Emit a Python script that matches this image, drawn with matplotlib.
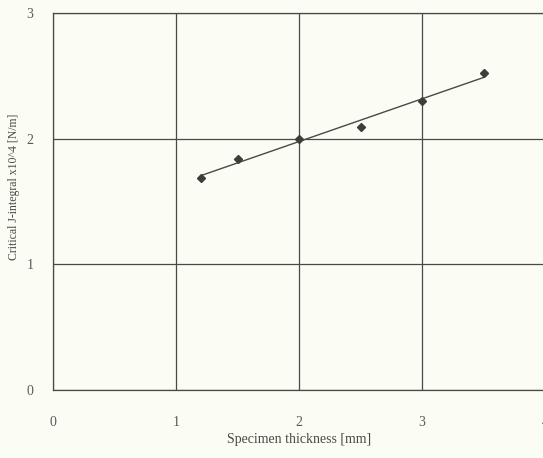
import matplotlib
matplotlib.use("Agg")
import matplotlib.pyplot as plt
import numpy as np

# specimen thickness [mm] and critical J-integral (x10^4 N/m)
thickness = [1.2, 1.5, 2.0, 2.5, 3.0, 3.5]
j_crit = [1.69, 1.84, 2.00, 2.09, 2.30, 2.52]

x_ticks = [0, 1, 2, 3, 4]
y_ticks = [0, 1, 2, 3]

bg = '#fbfcf3'
ink = '#4a4a44'

plt.rcParams['font.family'] = ['Liberation Serif', 'DejaVu Serif']

fig = plt.figure(figsize=(5.43, 4.58), dpi=100, facecolor=bg)
ax = fig.add_axes([53/543, 68/458, 492/543, 377/458], facecolor=bg)

# linear trend line through the points
k, b = np.polyfit(thickness, j_crit, 1)
xs = np.array([min(thickness), max(thickness)])
ax.plot(xs, k*xs + b, color=ink, lw=1.0, zorder=3)
ax.plot(thickness, j_crit, linestyle='none', marker='D', markersize=3.6,
        color='#3e3e38', zorder=4)

ax.set_xlim(0, 4)
ax.set_ylim(0, 3)
ax.set_xticks(x_ticks)
ax.set_yticks(y_ticks)
ax.grid(True, color=ink, lw=0.9)
ax.set_axisbelow(True)
for s in ax.spines.values():
    s.set_color(ink)
    s.set_linewidth(0.9)
ax.tick_params(length=0, labelsize=10, colors='#5a5a55')
ax.tick_params(axis='x', pad=19)
ax.tick_params(axis='y', pad=14)

ax.set_xlabel('Specimen thickness [mm]', fontsize=10, color='#4a4a44')
ax.xaxis.set_label_coords(0.5, -0.115)
ax.set_ylabel('Critical J-integral x10^4 [N/m]', fontsize=8.5, color='#4a4a44')
ax.yaxis.set_label_coords(-0.068, 0.54)

fig.savefig('out.png', dpi=100, facecolor=bg)
